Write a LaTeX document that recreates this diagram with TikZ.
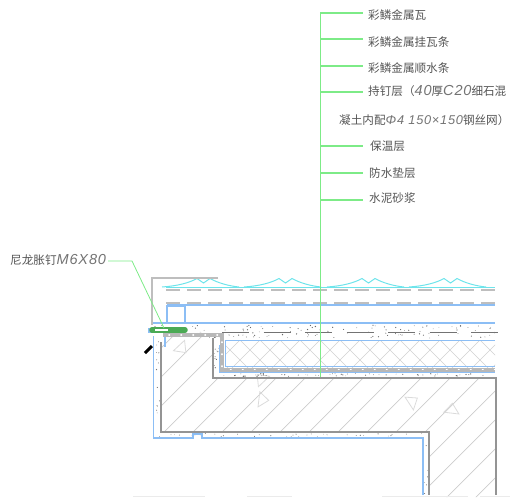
\documentclass[tikz,border=0pt]{standalone}
\usepackage{fontspec}
\setmainfont{Noto Sans CJK SC}
\newfontfamily\digitfont{Liberation Sans}[ItalicFont=Liberation Sans Italic, Scale=1.25, LetterSpace=6]
\newcommand{\dg}[1]{{\digitfont\itshape\color{black!55} #1}}
\definecolor{leadgreen}{RGB}{125,235,135}
\definecolor{layerblue}{RGB}{140,190,245}
\definecolor{tilecyan}{RGB}{110,228,235}
\definecolor{flashgray}{RGB}{190,190,190}
\definecolor{nailgreen}{RGB}{75,170,85}
\definecolor{textgray}{RGB}{85,85,85}
\tikzset{
  lead/.style={draw=leadgreen, line width=1.1pt},
  tag/.style={anchor=west, inner sep=0pt, text=textgray, font=\fontsize{11.6}{12}\selectfont},
  blueline/.style={draw=layerblue, line width=1.1pt},
  hatchline/.style={draw=black!20, line width=0.7pt},
  wall/.style={draw=black!42, line width=1.2pt}
}
\begin{document}
\begin{tikzpicture}[x=1pt,y=-1pt]
  \useasboundingbox (0,0) rectangle (510,497);
  \pgfmathsetseed{7}

  % Slab hatching
  \begin{scope}
    \clip (161,337) -- (213,337) -- (213,378) -- (496,378) -- (496,497) -- (429,497) -- (429,432) -- (161,432) -- cycle;
    \foreach \xa in {150,179,...,800}
      \draw [hatchline] (\xa,330) -- (\xa-175,505);
  \end{scope}
  \foreach \xa/\ya/\rot in {181/348/20, 262/379/200, 262/400/60, 412/402/100, 452/410/150}
    \draw [draw=black!14, line width=0.8pt, rotate around={\rot:(\xa,\ya)}] (\xa-8,\ya) -- (\xa+6,\ya-6) -- (\xa+3,\ya+6) -- cycle;

  % Insulation hatching
  \begin{scope}
    \clip (225,340) rectangle (495,367);
    \foreach \xa in {200,220,...,540} {
      \draw [draw=black!18, line width=0.6pt] (\xa,340) -- (\xa+30,370);
      \draw [draw=black!18, line width=0.6pt] (\xa,340) -- (\xa-30,370);
    }
  \end{scope}

  % Mortar and concrete dots
  \foreach \i in {1,...,120} {
    \pgfmathsetmacro{\xa}{155+340*rnd}
    \pgfmathsetmacro{\ya}{325+13*rnd}
    \fill [black!60] (\xa,\ya) circle (0.3+0.4*rnd);
  }
  \foreach \i in {1,...,55} {
    \pgfmathsetmacro{\xa}{222+273*rnd}
    \pgfmathsetmacro{\ya}{373.5+3*rnd}
    \fill [black!60] (\xa,\ya) circle (0.3+0.4*rnd);
  }
  \foreach \i in {1,...,40} {
    \pgfmathsetmacro{\xa}{157+266*rnd}
    \pgfmathsetmacro{\ya}{433.5+3.5*rnd}
    \fill [black!60] (\xa,\ya) circle (0.3+0.3*rnd);
  }
  \foreach \i in {1,...,14} {
    \pgfmathsetmacro{\ya}{340+92*rnd}
    \pgfmathsetmacro{\xa}{155.5+4*rnd}
    \fill [black!60] (\xa,\ya) circle (0.3+0.3*rnd);
  }
  \foreach \i in {1,...,6} {
    \pgfmathsetmacro{\ya}{440+55*rnd}
    \pgfmathsetmacro{\xa}{424.5+3.5*rnd}
    \fill [black!60] (\xa,\ya) circle (0.3+0.3*rnd);
  }
  \foreach \i in {1,...,10} {
    \pgfmathsetmacro{\ya}{340+30*rnd}
    \pgfmathsetmacro{\xa}{214.5+4*rnd}
    \fill [black!60] (\xa,\ya) circle (0.3+0.3*rnd);
  }
  \foreach \xa in {222,263.5,...,480}
    \draw [draw=black!55, line width=0.9pt] (\xa,332) -- (\xa+27,332);

  % Slab outline
  \draw [wall] (161,342) -- (161,432) -- (429,432) -- (429,495);
  \draw [wall] (213,338) -- (213,378) -- (496,378) -- (496,495);

  % Layers
  \draw [tilecyan, line width=1pt] (166,287) -- (495,287);
  \foreach \xa in {197,279,362,444}
    \draw [tilecyan, line width=1pt] (\xa-35,287) .. controls (\xa-20,286) and (\xa-8,283) .. (\xa,278.5) -- (\xa+6.5,283) -- (\xa+13,278.5) .. controls (\xa+21,283) and (\xa+32,286) .. (\xa+42,287);
  \draw [draw=flashgray, line width=1.1pt, dash pattern=on 14pt off 7pt] (166,290) -- (495,290);
  \draw [draw=flashgray, line width=1.1pt, dash pattern=on 14pt off 7pt] (166,303) -- (495,303);
  \draw [blueline] (167,305) -- (495,305);
  \draw [blueline] (152,323) -- (495,323);
  \draw [blueline] (225,340.5) -- (495,340.5);
  \draw [blueline] (153.5,336) -- (153.5,438) -- (193,438) -- (193,434) -- (202,434) -- (202,438) -- (423,438) -- (423,495);
  \draw [draw=layerblue, line width=2pt] (167,306) rectangle (185,323);

  % Membrane band
  \draw [draw=black!28, line width=4pt] (163,335) -- (222,335) -- (222,369.5) -- (495,369.5);
  \draw [draw=white, line width=1.6pt, line cap=round, dash pattern=on 0.5pt off 11.5pt] (169,335) -- (222,335) -- (222,369.5) -- (495,369.5);
  \draw [blueline, line width=0.8pt] (225,340.5) -- (225,366.8) -- (495,366.8);
  \draw [blueline, line width=0.8pt] (219.5,345) -- (219.5,372.3) -- (495,372.3);

  % Flashing
  \draw [draw=flashgray, line width=2.6pt] (218,278) -- (152,278) -- (152,325);
  \draw [draw=black, line width=3pt] (145,353) -- (152,346);
  \draw [draw=layerblue, line width=1.5pt] (165,337) -- (165,347);

  % Nail
  \draw [draw=layerblue, line width=5pt] (148,330) -- (153,330);
  \draw [draw=nailgreen, line width=5.5pt, line cap=round] (152,330) -- (185,330);
  \draw [draw=white, line width=2pt] (155,330) -- (168,330);

  % Faint edge along the bottom
  \foreach \xa/\xb in {133/205,247/292,382/468,480/510}
    \draw [draw=black!8, line width=1pt] (\xa,496) -- (\xb,496);

  % Nodes
  \node (wa) [tag] at (368,15) {彩鳞金属瓦};
  \node (guawa) [tag] at (368,42) {彩鳞金属挂瓦条};
  \node (shunshui) [tag] at (368,68) {彩鳞金属顺水条};
  \node (chiding) [tag] at (368,91) {持钉层（\dg{40}厚\dg{C20}细石混};
  \node (chiding2) [tag] at (339,120) {凝土内配{\fontsize{10.2}{12}\selectfont\dg{Φ4 150×150}}钢丝网）};
  \node (baowen) [tag] at (370,146) {保温层};
  \node (fangshui) [tag] at (369,173) {防水垫层};
  \node (shajiang) [tag] at (369,198) {水泥砂浆};
  \node (nail) [tag] at (10,260) {尼龙胀钉\dg{M6X80}};

  \coordinate (waend) at ([xshift=-5pt,yshift=2pt]wa.west);
  \coordinate (guawaend) at ([xshift=-5pt,yshift=3pt]guawa.west);
  \coordinate (shunshuiend) at ([xshift=-5pt,yshift=2pt]shunshui.west);
  \coordinate (chidingend) at ([xshift=-5pt,yshift=-1pt]chiding.west);
  \coordinate (baowenend) at ([xshift=-7pt]baowen.west);
  \coordinate (fangshuiend) at ([xshift=-6pt]fangshui.west);
  \coordinate (shajiangend) at ([xshift=-6pt,yshift=-2pt]shajiang.west);
  \coordinate (trunktop) at (320.5,13);
  \coordinate (trunkbot) at (320.5,377);
  \coordinate (nailstart) at ([xshift=2pt,yshift=-1pt]nail.east);
  \coordinate (nailbend) at (132,261);
  \coordinate (nailend) at (164,328);

  % Leaders
  \draw [lead] (trunkbot) -- (trunktop) -- (waend);
  \draw [lead] (trunktop |- guawaend) -- (guawaend);
  \draw [lead] (trunktop |- shunshuiend) -- (shunshuiend);
  \draw [lead] (trunktop |- chidingend) -- (chidingend);
  \draw [lead] (trunktop |- baowenend) -- (baowenend);
  \draw [lead] (trunktop |- fangshuiend) -- (fangshuiend);
  \draw [lead] (trunktop |- shajiangend) -- (shajiangend);
  \draw [lead, line width=0.8pt] (nailstart) -- (nailbend) -- (nailend);
\end{tikzpicture}
\end{document}
